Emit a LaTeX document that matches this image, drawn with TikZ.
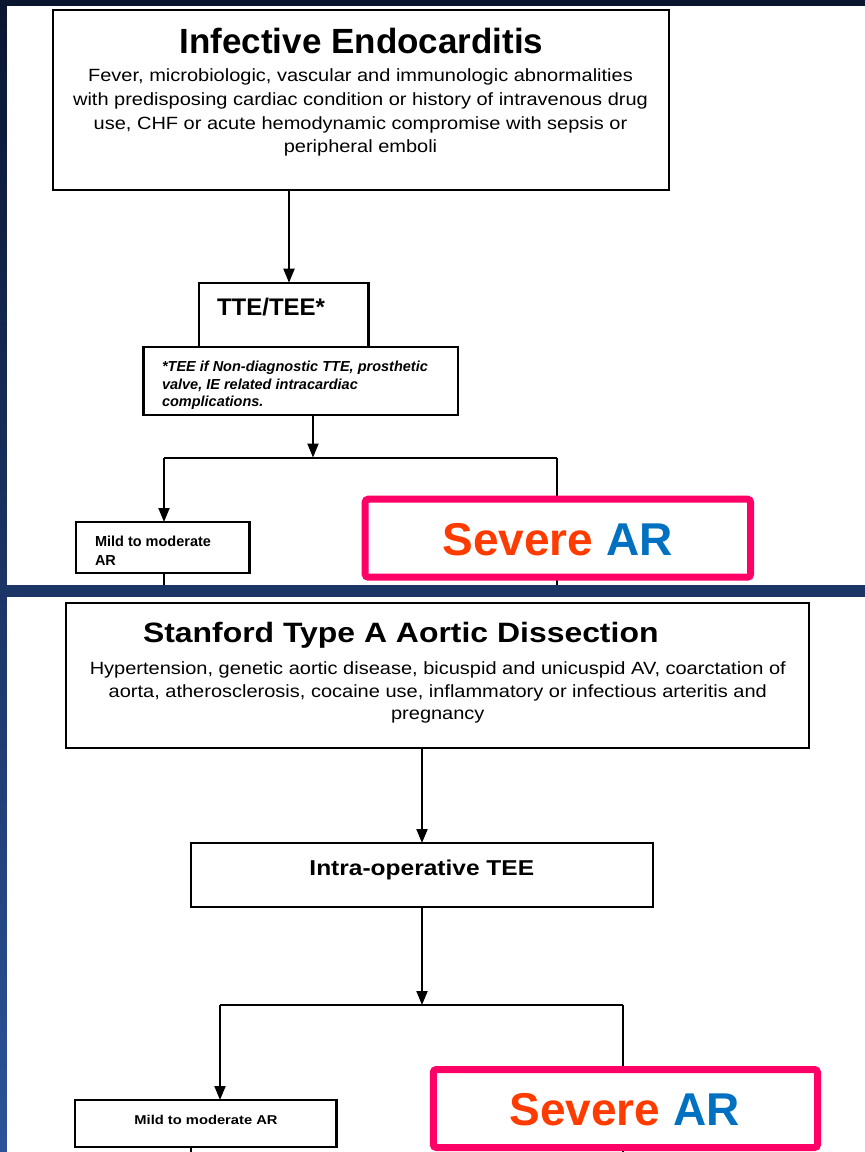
\documentclass[tikz,border=0pt]{standalone}
\usepackage{fontspec}
\setmainfont{Liberation Sans}
\usepackage{graphicx}
\usetikzlibrary{arrows.meta}
\definecolor{navyTop}{HTML}{0A1530}
\definecolor{navyMid}{HTML}{1B3160}
\definecolor{navyBot}{HTML}{2C5398}
\definecolor{pinkc}{HTML}{FF0066}
\definecolor{sevc}{HTML}{FF3B00}
\definecolor{arc}{HTML}{0070C0}
\newcommand{\hstretch}[2]{\scalebox{#1}[1]{#2}}
\newcommand{\fsz}[1]{\fontsize{#1}{#1}\selectfont}
\begin{document}
\begin{tikzpicture}[x=1pt,y=-1pt,
  box/.style={draw=black, line width=2.2pt, fill=white, rectangle, inner sep=0pt, outer sep=0pt},
  txt/.style={anchor=base, inner sep=0pt, outer sep=0pt, text=black},
  txtw/.style={anchor=base west, inner sep=0pt, outer sep=0pt, text=black},
  arr/.style={line width=2pt, -{Triangle[width=11pt,length=14pt]}},
  ln/.style={line width=2pt},
  pinkbox/.style={draw=pinkc, line width=7pt, fill=white, rounded corners=3pt, inner sep=0pt, outer sep=0pt},
  sevtxt/.style={anchor=base, inner sep=0pt, font=\fsz{46}\bfseries}]
\useasboundingbox (0,0) rectangle (865,1152);
% background
\shade[top color=navyTop, middle color=navyMid, bottom color=navyBot] (0,0) rectangle (865,1152);
\fill[white] (7,6) rectangle (865,585);
\fill[white] (7,597) rectangle (865,1152);

% ===== Top panel =====
\node[box, minimum width=616pt, minimum height=180pt] (ie) at (361,100) {};
\node[txt, font=\fsz{35}\bfseries] (ieT) at (361.5,53.3) {Infective Endocarditis};
\node[txt, font=\fsz{17.7}] (ie1) at (360.5,81.7) {\hstretch{1.13}{Fever, microbiologic, vascular and immunologic abnormalities}};
\node[txt, font=\fsz{17.7}] (ie2) at (360.5,105.3) {\hstretch{1.13}{with predisposing cardiac condition or history of intravenous drug}};
\node[txt, font=\fsz{17.7}] (ie3) at (360.5,129) {\hstretch{1.13}{use, CHF or acute hemodynamic compromise with sepsis or}};
\node[txt, font=\fsz{17.7}] (ie4) at (360.5,152.5) {\hstretch{1.13}{peripheral emboli}};

\node[box, minimum width=169.9pt, minimum height=64pt] (tte) at (283.55,314.7) {};
\node[txtw, font=\fsz{24}\bfseries] (tteT) at (217,315) {TTE/TEE*};
\node[box, minimum width=314.6pt, minimum height=68.3pt] (note) at (300.7,380.85) {};
\node[txtw, font=\fsz{14.5}\bfseries\itshape] (note1) at (162,371.7) {*TEE if Non-diagnostic TTE, prosthetic};
\node[txtw, font=\fsz{14.5}\bfseries\itshape] (note2) at (162,389.5) {valve, IE related intracardiac};
\node[txtw, font=\fsz{14.5}\bfseries\itshape] (note3) at (162,406.7) {complications.};

\coordinate (a1) at (289,0);
\coordinate (j1L) at (164,457.5);
\coordinate (j1R) at (557,457.5);
\coordinate (j1M) at (313,457.5);
\coordinate (bot1) at (0,585);

\node[box, minimum width=173.8pt, minimum height=51pt] (mild1) at (162.5,547.5) {};
\node[txtw, font=\fsz{14.5}\bfseries] (mild1a) at (95,546.7) {Mild to moderate};
\node[txtw, font=\fsz{14.5}\bfseries] (mild1b) at (95,565) {AR};

\draw[arr] (ie.south -| a1) -- (tte.north -| a1);
\draw[arr] (note.south -| j1M) -- (j1M);
\draw[ln] (j1L) -- (j1R);
\draw[arr] (j1L) -- (mild1.north -| j1L);
\draw[ln] (j1R) -- (j1R |- bot1);
\draw[ln] (mild1.south -| j1L) -- (j1L |- bot1);

\node[pinkbox, minimum width=385.3pt, minimum height=78pt] (sev1) at (557.85,538.2) {};
\node[sevtxt] (sev1T) at (557.5,555) {\textcolor{sevc}{Severe} \textcolor{arc}{AR}};

% ===== Bottom panel =====
\node[box, minimum width=743.1pt, minimum height=145.3pt] (sta) at (437.25,675.35) {};
\node[txtw, font=\fsz{28}\bfseries] (staT) at (143,642.7) {\hstretch{1.14}{Stanford Type A Aortic Dissection}};
\node[txt, font=\fsz{17.7}] (sta1) at (437.8,674.5) {\hstretch{1.13}{Hypertension, genetic aortic disease, bicuspid and unicuspid AV, coarctation of}};
\node[txt, font=\fsz{17.7}] (sta2) at (437.8,697) {\hstretch{1.13}{aorta, atherosclerosis, cocaine use, inflammatory or infectious arteritis and}};
\node[txt, font=\fsz{17.7}] (sta3) at (437.8,719.5) {\hstretch{1.13}{pregnancy}};

\node[box, minimum width=461.8pt, minimum height=64.3pt] (intra) at (421.8,875.15) {};
\node[txt, font=\fsz{21.5}\bfseries] (intraT) at (421.8,875) {\hstretch{1.14}{Intra-operative TEE}};

\coordinate (a2) at (422,0);
\coordinate (j2L) at (220,1005);
\coordinate (j2R) at (623.4,1005);
\coordinate (j2M) at (422,1005);
\coordinate (a3) at (191,0);
\coordinate (bot2) at (0,1152);

\node[box, minimum width=261.5pt, minimum height=46.7pt] (mild2) at (205.75,1123.35) {};
\node[txt, font=\fsz{12.8}\bfseries] (mild2T) at (206,1124) {\hstretch{1.15}{Mild to moderate AR}};

\draw[arr] (sta.south -| a2) -- (intra.north -| a2);
\draw[arr] (intra.south -| j2M) -- (j2M);
\draw[ln] (j2L) -- (j2R);
\draw[arr] (j2L) -- (mild2.north -| j2L);
\draw[ln] (j2R) -- (j2R |- bot2);
\draw[ln] (mild2.south -| a3) -- (a3 |- bot2);

\node[pinkbox, minimum width=384.2pt, minimum height=78pt] (sev2) at (625.4,1108.5) {};
\node[sevtxt] (sev2T) at (624.5,1125) {\textcolor{sevc}{Severe} \textcolor{arc}{AR}};
\end{tikzpicture}
\end{document}
